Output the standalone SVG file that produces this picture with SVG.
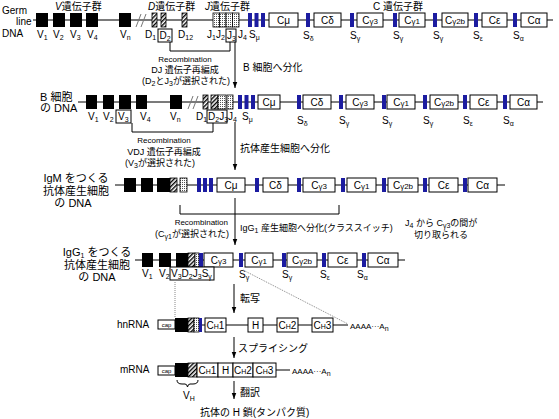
<svg xmlns="http://www.w3.org/2000/svg" width="559" height="419" viewBox="0 0 559 419">
<style>
text{font-family:"Liberation Sans","Noto Sans CJK JP",sans-serif;fill:#000}
.lb{font-size:10px}
.sb{font-size:7px}
.jp{font-size:10px}
.j9{font-size:9px}
.jl{font-size:11px}
.sm{font-size:8px}
.rc{font-size:8px}
.m{text-anchor:middle}
.e{text-anchor:end}
.bx{font-size:10px;text-anchor:middle}
.sg{font-size:8px}
.cp{font-size:6px;text-anchor:middle}
.ln{stroke:#000;stroke-width:1;fill:none}
.gl{stroke:#777;stroke-width:1;fill:none}
.v{fill:#000}
.h{fill:url(#hatch);stroke:#000;stroke-width:.8}
.d{fill:url(#dots);stroke:#000;stroke-width:.8}
.s{fill:#1c1ca0}
.c{fill:#fff;stroke:#000;stroke-width:1}
.lbx{fill:#fff;stroke:#000;stroke-width:1}
.dt{stroke:#888;stroke-width:1;stroke-dasharray:1 1;fill:none}
.ar{stroke:#000;stroke-width:1;fill:none;marker-end:url(#ah)}
</style>
<defs>
<pattern id="hatch" width="3" height="3" patternUnits="userSpaceOnUse" patternTransform="rotate(45)"><rect width="3" height="3" fill="#fff"/><rect width="1.4" height="3" fill="#000"/></pattern>
<pattern id="dots" width="2" height="2" patternUnits="userSpaceOnUse"><rect width="2" height="2" fill="#fff"/><rect width="1" height="1" fill="#555"/></pattern>
<marker id="ah" viewBox="0 0 8 8" refX="8" refY="4" markerWidth="6" markerHeight="6" orient="auto"><path d="M0,1L8,4L0,7z" fill="#000"/></marker>
</defs>

<g id="row-germline">
<text class="lb" x="2" y="14">Germ</text>
<text class="lb" x="16" y="25">line</text>
<text class="lb" x="2" y="37">DNA</text>
<text class="jp" x="55" y="10"><tspan font-style="italic">V</tspan>遺伝子群</text>
<text class="jp" x="148" y="10"><tspan font-style="italic">D</tspan>遺伝子群</text>
<text class="jp" x="205" y="10"><tspan font-style="italic">J</tspan>遺伝子群</text>
<text class="jp" x="373" y="10">C 遺伝子群</text>
<line class="ln" x1="33" y1="20" x2="553" y2="20"/>
<line class="gl" x1="98" y1="20" x2="119" y2="20"/>
<line class="gl" x1="131" y1="20" x2="213" y2="20"/>
<rect class="v" x="36" y="13" width="12" height="14"/>
<rect class="v" x="53" y="13" width="12" height="14"/>
<rect class="v" x="70" y="13" width="12" height="14"/>
<rect class="v" x="86" y="13" width="12" height="14"/>
<rect class="v" x="119" y="13" width="12" height="14"/>
<path class="gl" d="M136,27L141,14M141,27L146,14"/>
<rect class="h" x="152" y="13" width="5" height="14"/>
<rect class="h" x="161" y="13" width="5" height="14"/>
<rect class="h" x="182" y="13" width="5" height="14"/>
<rect class="d" x="213" y="13" width="6.5" height="14"/>
<rect class="d" x="219.5" y="13" width="6.5" height="14"/>
<rect class="d" x="226" y="13" width="6.5" height="14"/>
<rect class="d" x="232.5" y="13" width="6.5" height="14"/>
<rect class="s" x="248" y="13" width="4" height="14"/>
<rect class="s" x="254.5" y="13" width="4" height="14"/>
<rect class="s" x="261" y="13" width="4" height="14"/>
<rect class="c" x="269" y="13" width="29" height="14"/>
<rect class="s" x="306" y="13" width="4" height="14"/>
<rect class="c" x="314" y="13" width="27" height="14"/>
<rect class="s" x="350" y="13" width="4" height="14"/>
<rect class="c" x="357" y="13" width="26" height="14"/>
<rect class="s" x="393" y="13" width="4" height="14"/>
<rect class="c" x="399" y="13" width="26" height="14"/>
<rect class="s" x="433" y="13" width="4" height="14"/>
<rect class="c" x="442" y="13" width="26" height="14"/>
<rect class="s" x="474" y="13" width="4" height="14"/>
<rect class="c" x="482" y="13" width="25" height="14"/>
<rect class="s" x="513" y="13" width="4" height="14"/>
<rect class="c" x="521" y="13" width="26" height="14"/>
<text class="bx" x="283.5" y="24">Cμ</text>
<text class="bx" x="327.5" y="24">Cδ</text>
<text class="bx" x="370" y="24">C<tspan class="sg">γ3</tspan></text>
<text class="bx" x="412" y="24">C<tspan class="sg">γ1</tspan></text>
<text class="bx" x="455" y="24">C<tspan class="sg">γ2b</tspan></text>
<text class="bx" x="494.5" y="24">Cε</text>
<text class="bx" x="534" y="24">Cα</text>
<text class="lb" x="37" y="38">V<tspan class="sb" dy="2">1</tspan></text>
<text class="lb" x="53" y="38">V<tspan class="sb" dy="2">2</tspan></text>
<text class="lb" x="70" y="38">V<tspan class="sb" dy="2">3</tspan></text>
<text class="lb" x="87" y="38">V<tspan class="sb" dy="2">4</tspan></text>
<text class="lb" x="120" y="38">V<tspan class="sb" dy="2">n</tspan></text>
<text class="lb" x="145" y="38">D<tspan class="sb" dy="2">1</tspan></text>
<rect class="lbx" x="158" y="29" width="14" height="13"/>
<text class="lb" x="159.5" y="39">D<tspan class="sb" dy="2">2</tspan></text>
<text class="lb" x="178" y="38">D<tspan class="sb" dy="2">12</tspan></text>
<text class="lb" x="207" y="38">J<tspan class="sb" dy="2">1</tspan><tspan dy="-2">J</tspan><tspan class="sb" dy="2">2</tspan></text>
<rect class="lbx" x="226" y="29" width="10" height="13"/>
<text class="lb" x="227" y="39">J<tspan class="sb" dy="2">3</tspan></text>
<text class="lb" x="238" y="38">J<tspan class="sb" dy="2">4</tspan></text>
<text class="lb" x="249" y="38">S<tspan class="sb" dy="2">μ</tspan></text>
<text class="lb" x="303" y="39">S<tspan class="sb" dy="2">δ</tspan></text>
<text class="lb" x="350" y="39">S<tspan class="sb" dy="2">γ</tspan></text>
<text class="lb" x="393" y="39">S<tspan class="sb" dy="2">γ</tspan></text>
<text class="lb" x="433" y="39">S<tspan class="sb" dy="2">γ</tspan></text>
<text class="lb" x="473" y="39">S<tspan class="sb" dy="2">ε</tspan></text>
<text class="lb" x="513" y="39">S<tspan class="sb" dy="2">α</tspan></text>
<text class="rc m" x="185" y="62">Recombination</text>
<text class="j9 m" x="185" y="73">DJ 遺伝子再編成</text>
<text class="j9 m" x="186" y="84">(D<tspan class="sb" dy="2">2</tspan><tspan dy="-2">とJ</tspan><tspan class="sb" dy="2">3</tspan><tspan dy="-2">が選択された)</tspan></text>
<text class="jp" x="243" y="71">B 細胞へ分化</text>
</g>

<g id="row-bcell">
<text class="jl" x="40" y="101">B 細胞</text>
<text class="jl" x="40" y="112">の DNA</text>
<line class="ln" x1="78" y1="102" x2="543" y2="102"/>
<line class="gl" x1="147" y1="102" x2="170" y2="102"/>
<line class="gl" x1="182" y1="102" x2="203" y2="102"/>
<rect class="v" x="86" y="95" width="11" height="14"/>
<rect class="v" x="103" y="95" width="11" height="14"/>
<rect class="v" x="119" y="95" width="12" height="14"/>
<rect class="v" x="136" y="95" width="11" height="14"/>
<rect class="v" x="170" y="95" width="12" height="14"/>
<path class="gl" d="M188,109L193,96M193,109L198,96"/>
<rect class="h" x="203" y="95" width="5" height="14"/>
<rect class="h" x="211" y="95" width="7" height="14"/>
<rect class="d" x="218" y="95" width="8" height="14"/>
<rect class="d" x="227" y="95" width="6" height="14"/>
<rect class="s" x="238" y="95" width="4" height="14"/>
<rect class="s" x="244.5" y="95" width="4" height="14"/>
<rect class="s" x="251" y="95" width="4" height="14"/>
<rect class="c" x="258" y="95" width="22" height="14"/>
<rect class="s" x="297" y="95" width="4" height="14"/>
<rect class="c" x="303" y="95" width="28" height="14"/>
<rect class="s" x="339" y="95" width="4" height="14"/>
<rect class="c" x="346" y="95" width="28" height="14"/>
<rect class="s" x="382" y="95" width="4" height="14"/>
<rect class="c" x="387" y="95" width="28" height="14"/>
<rect class="s" x="423" y="95" width="4" height="14"/>
<rect class="c" x="430" y="95" width="28" height="14"/>
<rect class="s" x="463" y="95" width="4" height="14"/>
<rect class="c" x="470" y="95" width="27" height="14"/>
<rect class="s" x="503" y="95" width="4" height="14"/>
<rect class="c" x="510" y="95" width="27" height="14"/>
<text class="bx" x="269" y="106">Cμ</text>
<text class="bx" x="317" y="106">Cδ</text>
<text class="bx" x="360" y="106">C<tspan class="sg">γ3</tspan></text>
<text class="bx" x="401" y="106">C<tspan class="sg">γ1</tspan></text>
<text class="bx" x="444" y="106">C<tspan class="sg">γ2b</tspan></text>
<text class="bx" x="483.5" y="106">Cε</text>
<text class="bx" x="523.5" y="106">Cα</text>
<text class="lb" x="88" y="120">V<tspan class="sb" dy="2">1</tspan></text>
<text class="lb" x="103" y="120">V<tspan class="sb" dy="2">2</tspan></text>
<rect class="lbx" x="116" y="110" width="15" height="13"/>
<text class="lb" x="118" y="120">V<tspan class="sb" dy="2">3</tspan></text>
<text class="lb" x="140" y="120">V<tspan class="sb" dy="2">4</tspan></text>
<text class="lb" x="170" y="120">V<tspan class="sb" dy="2">n</tspan></text>
<text class="lb" x="196" y="120">D<tspan class="sb" dy="2">1</tspan></text>
<rect class="lbx" x="207" y="110" width="20" height="13"/>
<text class="lb" x="208" y="120">D<tspan class="sb" dy="2">2</tspan><tspan dy="-2">J</tspan><tspan class="sb" dy="2">3</tspan></text>
<text class="lb" x="228" y="120">J<tspan class="sb" dy="2">4</tspan></text>
<text class="lb" x="242" y="120">S<tspan class="sb" dy="2">μ</tspan></text>
<text class="lb" x="297" y="124">S<tspan class="sb" dy="2">δ</tspan></text>
<text class="lb" x="339" y="124">S<tspan class="sb" dy="2">γ</tspan></text>
<text class="lb" x="382" y="124">S<tspan class="sb" dy="2">γ</tspan></text>
<text class="lb" x="423" y="124">S<tspan class="sb" dy="2">γ</tspan></text>
<text class="lb" x="463" y="124">S<tspan class="sb" dy="2">ε</tspan></text>
<text class="lb" x="503" y="124">S<tspan class="sb" dy="2">α</tspan></text>
<text class="rc m" x="164" y="143">Recombination</text>
<text class="j9 m" x="164" y="155">VDJ 遺伝子再編成</text>
<text class="j9 m" x="160" y="166">(V<tspan class="sb" dy="2">3</tspan><tspan dy="-2">が選択された)</tspan></text>
<text class="jp" x="240" y="152">抗体産生細胞へ分化</text>
</g>

<g id="row-igm">
<text class="jl m" x="76" y="182">IgM をつくる</text>
<text class="jl m" x="76" y="195">抗体産生細胞</text>
<text class="jl m" x="73" y="207">の DNA</text>
<line class="ln" x1="115" y1="185" x2="505" y2="185"/>
<rect class="v" x="124" y="178" width="12" height="14"/>
<rect class="v" x="141" y="178" width="12" height="14"/>
<rect class="v" x="157" y="178" width="13" height="14"/>
<rect class="h" x="170" y="178" width="7" height="14"/>
<rect class="d" x="180" y="178" width="7" height="14"/>
<rect class="s" x="197" y="178" width="4" height="14"/>
<rect class="s" x="203" y="178" width="4" height="14"/>
<rect class="s" x="209" y="178" width="4" height="14"/>
<rect class="c" x="217" y="178" width="28" height="14"/>
<rect class="s" x="255" y="178" width="4" height="14"/>
<rect class="c" x="263" y="178" width="25" height="14"/>
<rect class="s" x="297" y="178" width="4" height="14"/>
<rect class="c" x="303" y="178" width="32" height="14"/>
<rect class="s" x="341" y="178" width="4" height="14"/>
<rect class="c" x="347" y="178" width="29" height="14"/>
<rect class="s" x="382" y="178" width="4" height="14"/>
<rect class="c" x="388" y="178" width="30" height="14"/>
<rect class="s" x="423" y="178" width="4" height="14"/>
<rect class="c" x="429" y="178" width="29" height="14"/>
<rect class="s" x="463" y="178" width="4" height="14"/>
<rect class="c" x="468" y="178" width="29" height="14"/>
<text class="bx" x="231" y="189">Cμ</text>
<text class="bx" x="275.5" y="189">Cδ</text>
<text class="bx" x="319" y="189">C<tspan class="sg">γ3</tspan></text>
<text class="bx" x="361.5" y="189">C<tspan class="sg">γ1</tspan></text>
<text class="bx" x="403" y="189">C<tspan class="sg">γ2b</tspan></text>
<text class="bx" x="443.5" y="189">Cε</text>
<text class="bx" x="482.5" y="189">Cα</text>
<text class="rc e" x="228" y="225">Recombination</text>
<text class="j9 e" x="229" y="237">(C<tspan class="sb" dy="2">γ1</tspan><tspan dy="-2">が選択された)</tspan></text>
<text class="j9" x="240" y="231">IgG<tspan class="sb" dy="2">1</tspan><tspan dy="-2"> 産生細胞へ分化(クラススイッチ)</tspan></text>
<text class="j9" x="405" y="226">J<tspan class="sb" dy="2">4</tspan><tspan dy="-2"> から C</tspan><tspan class="sb" dy="2">γ3</tspan><tspan dy="-2">の間が</tspan></text>
<text class="j9" x="414" y="238">切り取られる</text>
</g>

<g id="row-igg1">
<text class="jl m" x="97" y="256">IgG<tspan class="sb" dy="2">1</tspan><tspan dy="-2"> をつくる</tspan></text>
<text class="jl m" x="97" y="269">抗体産生細胞</text>
<text class="jl m" x="97" y="281">の DNA</text>
<line class="ln" x1="135" y1="260" x2="405" y2="260"/>
<rect class="v" x="142" y="253" width="11" height="14"/>
<rect class="v" x="159" y="253" width="12" height="14"/>
<rect class="v" x="176" y="253" width="12" height="14"/>
<rect class="h" x="188" y="253" width="7" height="14"/>
<rect class="d" x="195" y="253" width="4" height="14"/>
<rect class="s" x="199" y="253" width="4" height="14"/>
<rect class="c" x="204" y="253" width="29" height="14"/>
<rect class="s" x="239" y="253" width="4" height="14"/>
<rect class="c" x="245" y="253" width="28" height="14"/>
<rect class="s" x="282" y="253" width="4" height="14"/>
<rect class="c" x="287" y="253" width="30" height="14"/>
<rect class="s" x="322" y="253" width="4" height="14"/>
<rect class="c" x="328" y="253" width="29" height="14"/>
<rect class="s" x="362" y="253" width="4" height="14"/>
<rect class="c" x="368" y="253" width="30" height="14"/>
<text class="bx" x="218.5" y="264">C<tspan class="sg">γ3</tspan></text>
<text class="bx" x="259" y="264">C<tspan class="sg">γ1</tspan></text>
<text class="bx" x="302" y="264">C<tspan class="sg">γ2b</tspan></text>
<text class="bx" x="342.5" y="264">Cε</text>
<text class="bx" x="383" y="264">Cα</text>
<text class="lb" x="142" y="277">V<tspan class="sb" dy="2">1</tspan></text>
<text class="lb" x="159" y="277">V<tspan class="sb" dy="2">2</tspan></text>
<rect class="lbx" x="170" y="267" width="44" height="13"/>
<text class="lb" x="171" y="277">V<tspan class="sb" dy="2">3</tspan><tspan dy="-2">D</tspan><tspan class="sb" dy="2">2</tspan><tspan dy="-2">J</tspan><tspan class="sb" dy="2">3</tspan><tspan dy="-2">S</tspan><tspan class="sb" dy="2">γ</tspan></text>
<text class="lb" x="239" y="278">S<tspan class="sb" dy="2">γ</tspan></text>
<text class="lb" x="282" y="278">S<tspan class="sb" dy="2">γ</tspan></text>
<text class="lb" x="320" y="278">S<tspan class="sb" dy="2">ε</tspan></text>
<text class="lb" x="357" y="278">S<tspan class="sb" dy="2">α</tspan></text>
<text class="jp" x="240" y="302">転写</text>
</g>

<g id="row-hnrna">
<text class="lb" x="117" y="328">hnRNA</text>
<line class="ln" x1="202" y1="325" x2="348" y2="325"/>
<rect class="c" x="158" y="320" width="17" height="9"/>
<text class="cp" x="166.5" y="327">cap</text>
<rect class="v" x="175" y="318" width="13" height="14"/>
<rect class="h" x="188" y="318" width="6" height="14"/>
<rect class="d" x="194" y="318" width="5" height="14"/>
<rect class="s" x="199" y="318" width="3" height="14"/>
<rect class="c" x="205" y="318" width="21" height="14"/>
<rect class="c" x="248" y="318" width="15" height="14"/>
<rect class="c" x="277" y="318" width="21" height="14"/>
<rect class="c" x="312" y="318" width="21" height="14"/>
<text class="bx" x="215.5" y="329">C<tspan class="sb">H</tspan>1</text>
<text class="bx" x="255.5" y="329">H</text>
<text class="bx" x="287.5" y="329">C<tspan class="sb">H</tspan>2</text>
<text class="bx" x="322.5" y="329">C<tspan class="sb">H</tspan>3</text>
<text class="sm" x="350" y="329">AAAA···A<tspan class="sb" dy="2">n</tspan></text>
<text class="jp" x="238" y="352">スプライシング</text>
</g>

<g id="row-mrna">
<text class="lb" x="120" y="373">mRNA</text>
<line class="ln" x1="276" y1="370" x2="290" y2="370"/>
<rect class="c" x="158" y="366" width="17" height="9"/>
<text class="cp" x="166.5" y="373">cap</text>
<rect class="v" x="175" y="363" width="13" height="14"/>
<rect class="h" x="188" y="363" width="9" height="14"/>
<rect class="c" x="197" y="363" width="21" height="14"/>
<rect class="c" x="218" y="363" width="15" height="14"/>
<rect class="c" x="233" y="363" width="20" height="14"/>
<rect class="c" x="253" y="363" width="23" height="14"/>
<text class="bx" x="207.5" y="374">C<tspan class="sb">H</tspan>1</text>
<text class="bx" x="225.5" y="374">H</text>
<text class="bx" x="243" y="374">C<tspan class="sb">H</tspan>2</text>
<text class="bx" x="264.5" y="374">C<tspan class="sb">H</tspan>3</text>
<text class="sm" x="292" y="374">AAAA···A<tspan class="sb" dy="2">n</tspan></text>
<path class="ln" d="M177,380q0,4 5,4h3q2,0 2.5,3q0.5,-3 2.5,-3h3q5,0 5,-4"/>
<text class="lb" x="183" y="399">V<tspan class="sb" dy="2">H</tspan></text>
<text class="jp" x="240" y="396">翻訳</text>
<text class="jp" x="200" y="416">抗体の H 鎖(タンパク質)</text>
</g>

<g id="connectors">
<path class="ln" d="M170,42V51H230V42"/>
<path class="ln" d="M132,123V132H213V123"/>
<path class="ln" d="M180,205V214H339V205"/>
<path class="ar" d="M235,42V88"/>
<path class="ar" d="M235,122V170"/>
<path class="ar" d="M235,198V245"/>
<path class="ar" d="M234,284V313"/>
<path class="ar" d="M234,337V358"/>
<path class="ar" d="M234,381V399"/>
<path class="dt" d="M175,280V318"/>
<path class="dt" d="M243,270L348,324"/>
</g>
</svg>
